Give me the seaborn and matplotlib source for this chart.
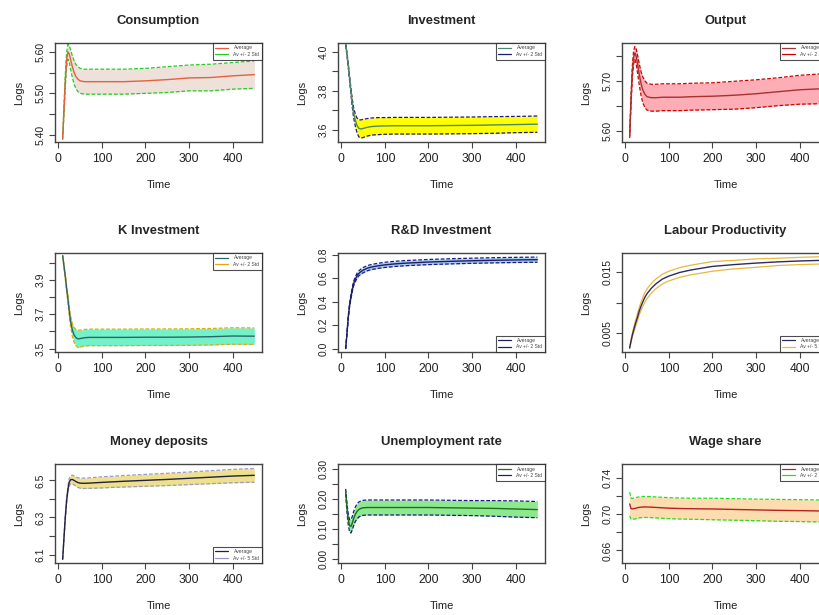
import matplotlib
matplotlib.use("Agg")
import matplotlib.pyplot as plt
import pandas as pd
import seaborn as sns
from matplotlib.lines import Line2D

# Simulation periods at which the Monte Carlo averages are recorded
time = [10, 13, 16, 19, 22, 25, 28, 32, 36, 40, 45, 50, 60, 70, 85, 100,
        125, 150, 200, 250, 300, 350, 400, 450]

# Cross-run averages and band half-widths (in logs)
consumption_avg = [5.392, 5.460, 5.530, 5.580, 5.600, 5.595, 5.582, 5.565, 5.551, 5.541, 5.534, 5.530,
                   5.528, 5.528, 5.528, 5.528, 5.528, 5.528, 5.530, 5.533, 5.537, 5.538, 5.542, 5.545]
consumption_band = [0.004, 0.010, 0.014, 0.017, 0.018, 0.020, 0.023, 0.026, 0.028, 0.029, 0.030, 0.030,
                    0.030, 0.030, 0.030, 0.030, 0.030, 0.030, 0.030, 0.031, 0.031, 0.032, 0.032, 0.033]

investment_avg = [4.040, 3.990, 3.930, 3.865, 3.800, 3.740, 3.690, 3.650, 3.622, 3.607, 3.603, 3.606,
                  3.612, 3.616, 3.618, 3.619, 3.620, 3.620, 3.620, 3.621, 3.622, 3.624, 3.626, 3.628]
investment_band = [0.005, 0.008, 0.010, 0.013, 0.016, 0.020, 0.025, 0.031, 0.038, 0.044, 0.047, 0.047,
                   0.045, 0.044, 0.044, 0.043, 0.043, 0.043, 0.043, 0.043, 0.043, 0.043, 0.042, 0.042]

output_avg = [5.590, 5.660, 5.718, 5.748, 5.757, 5.750, 5.735, 5.714, 5.696, 5.683, 5.674, 5.669,
              5.667, 5.667, 5.668, 5.668, 5.668, 5.669, 5.670, 5.672, 5.675, 5.679, 5.683, 5.685]
output_band = [0.004, 0.010, 0.012, 0.013, 0.013, 0.015, 0.018, 0.021, 0.024, 0.026, 0.027, 0.027,
               0.027, 0.027, 0.027, 0.027, 0.027, 0.027, 0.027, 0.028, 0.028, 0.028, 0.029, 0.030]

k_investment_avg = [4.040, 3.980, 3.920, 3.850, 3.790, 3.720, 3.660, 3.610, 3.580, 3.565, 3.556, 3.558,
                    3.563, 3.565, 3.565, 3.565, 3.565, 3.565, 3.566, 3.566, 3.567, 3.569, 3.573, 3.572]
k_investment_band = [0.005, 0.010, 0.013, 0.017, 0.020, 0.025, 0.030, 0.037, 0.043, 0.047, 0.050, 0.049,
                     0.048, 0.048, 0.048, 0.048, 0.048, 0.048, 0.048, 0.048, 0.048, 0.048, 0.048, 0.048]

rd_investment_avg = [0.000, 0.130, 0.270, 0.370, 0.440, 0.500, 0.550, 0.590, 0.620, 0.640, 0.655, 0.668,
                     0.685, 0.695, 0.705, 0.713, 0.722, 0.728, 0.737, 0.743, 0.748, 0.752, 0.755, 0.757]
rd_investment_band = [0.003, 0.008, 0.012, 0.015, 0.017, 0.018, 0.019, 0.020, 0.021, 0.021, 0.022, 0.022,
                      0.022, 0.022, 0.022, 0.022, 0.022, 0.022, 0.022, 0.022, 0.022, 0.022, 0.022, 0.022]

productivity_avg = [0.0025, 0.0036, 0.0046, 0.0054, 0.0062, 0.0069, 0.0076, 0.0086, 0.0094, 0.0101, 0.0109, 0.0115,
                    0.0124, 0.0131, 0.0139, 0.0144, 0.0150, 0.0154, 0.0160, 0.0163, 0.01655, 0.01675, 0.0169, 0.0170]
productivity_band = [0.0001, 0.0002, 0.0003, 0.0004, 0.0005, 0.0005, 0.0006, 0.0006, 0.0007, 0.0007, 0.0008, 0.0008,
                     0.0008, 0.0008, 0.0008, 0.0008, 0.0008, 0.0008, 0.0008, 0.0007, 0.0007, 0.0006, 0.0006, 0.0006]

deposits_avg = [6.075, 6.190, 6.300, 6.390, 6.450, 6.490, 6.503, 6.505, 6.500, 6.494, 6.488, 6.485,
                6.484, 6.485, 6.487, 6.489, 6.492, 6.495, 6.500, 6.505, 6.511, 6.517, 6.523, 6.527]
deposits_band = [0.002, 0.005, 0.010, 0.013, 0.016, 0.020, 0.022, 0.023, 0.024, 0.025, 0.026, 0.027,
                 0.028, 0.028, 0.029, 0.030, 0.030, 0.031, 0.032, 0.033, 0.034, 0.035, 0.036, 0.037]

unemployment_avg = [0.225, 0.170, 0.130, 0.110, 0.108, 0.118, 0.133, 0.148, 0.158, 0.164, 0.168, 0.170,
                    0.171, 0.171, 0.171, 0.171, 0.171, 0.171, 0.171, 0.170, 0.169, 0.168, 0.166, 0.164]
unemployment_band = [0.008, 0.015, 0.018, 0.020, 0.022, 0.022, 0.023, 0.024, 0.025, 0.025, 0.025, 0.025,
                     0.025, 0.025, 0.025, 0.025, 0.025, 0.025, 0.025, 0.025, 0.025, 0.026, 0.027, 0.027]

wage_share_avg = [0.7110, 0.7060, 0.7055, 0.7060, 0.7060, 0.7065, 0.7070, 0.7072, 0.7075, 0.7077, 0.7077, 0.7077,
                  0.7075, 0.7072, 0.7068, 0.7064, 0.7060, 0.7058, 0.7055, 0.7050, 0.7045, 0.7040, 0.7037, 0.7033]
wage_share_band = [0.0130, 0.0115, 0.0115, 0.0115, 0.0115, 0.0115, 0.0115, 0.0115, 0.0115, 0.0115, 0.0115, 0.0115,
                   0.0115, 0.0115, 0.0115, 0.0115, 0.0115, 0.0115, 0.0118, 0.0118, 0.0118, 0.0120, 0.0120, 0.0120]

titles = ["Consumption", "Investment", "Output",
          "K Investment", "R&D Investment", "Labour Productivity",
          "Money deposits", "Unemployment rate", "Wage share"]
band_labels = ["Av +/- 2 Std", "Av +/- 2 Std", "Av +/- 2 Std",
               "Av +/- 2 Std", "Av +/- 2 Std", "Av +/- 5 Std",
               "Av +/- 5 Std", "Av +/- 2 Std", "Av +/- 2 Std"]
x_ticks = [0, 100, 200, 300, 400]

averages = [consumption_avg, investment_avg, output_avg, k_investment_avg, rd_investment_avg,
            productivity_avg, deposits_avg, unemployment_avg, wage_share_avg]
bands = [consumption_band, investment_band, output_band, k_investment_band, rd_investment_band,
         productivity_band, deposits_band, unemployment_band, wage_share_band]

# y axis: tick positions and printed labels (every other label is skipped when crowded)
y_ticks = [
    ([5.40, 5.45, 5.50, 5.55, 5.60], ["5.40", "", "5.50", "", "5.60"]),
    ([3.6, 3.7, 3.8, 3.9, 4.0], ["3.6", "", "3.8", "", "4.0"]),
    ([5.60, 5.65, 5.70, 5.75], ["5.60", "", "5.70", ""]),
    ([3.5, 3.6, 3.7, 3.8, 3.9, 4.0], ["3.5", "", "3.7", "", "3.9", ""]),
    ([0.0, 0.2, 0.4, 0.6, 0.8], ["0.0", "0.2", "0.4", "0.6", "0.8"]),
    ([0.005, 0.010, 0.015], ["0.005", "", "0.015"]),
    ([6.1, 6.2, 6.3, 6.4, 6.5], ["6.1", "", "6.3", "", "6.5"]),
    ([0.00, 0.05, 0.10, 0.15, 0.20, 0.25, 0.30], ["0.00", "", "0.10", "", "0.20", "", "0.30"]),
    ([0.66, 0.68, 0.70, 0.72, 0.74], ["0.66", "", "0.70", "", "0.74"]),
]
y_limits = [(5.383, 5.621), (3.536, 4.047), (5.578, 5.777),
            (3.480, 4.056), (-0.029, 0.814), (0.00183, 0.01822),
            (6.055, 6.588), (-0.014, 0.316), (0.6463, 0.7548)]

# style per panel: fill, average line, band line, band dash, legend corner
styles = [
    dict(fill="#EEE1DA", avg="#E4603E", band="#22CC22", ls=(0, (3, 1.5)), loc="upper right"),
    dict(fill="#FFFF00", avg="#4E8A6A", band="#1A1A80", ls=(0, (3, 1.5)), loc="upper right"),
    dict(fill="#FCADB5", avg="#A83232", band="#D00000", ls=(0, (3, 1.5)), loc="upper right"),
    dict(fill="#72F2C8", avg="#2F6464", band="#E6A800", ls=(0, (3, 1.5)), loc="upper right"),
    dict(fill="#A8CCEE", avg="#202060", band="#1A1A8C", ls=(0, (3, 1.5)), loc="lower right"),
    dict(fill=None,      avg="#2B2B60", band="#E8B840", ls="-",          loc="lower right"),
    dict(fill="#EEE08C", avg="#202040", band="#9A9AC8", ls=(0, (3, 1.5)), loc="lower right"),
    dict(fill="#8EE88E", avg="#1E6E1E", band="#1A1A8C", ls=(0, (3, 1.5)), loc="upper right"),
    dict(fill="#FDDDB0", avg="#B82020", band="#22DD22", ls=(0, (3, 1.5)), loc="upper right"),
]

sns.set_theme(style="white")
plt.rcParams["font.family"] = ["Liberation Sans", "DejaVu Sans"]
plt.rcParams["axes.edgecolor"] = "#444444"
plt.rcParams["axes.linewidth"] = 1.0

W, H = 820, 615
fig = plt.figure(figsize=(W / 100, H / 100), dpi=100)
fig.patch.set_facecolor("white")

col_left = [55, 338, 622]
row_top = [43, 253, 464]
ax_w, ax_h = 207, 99

for i in range(9):
    r, c = divmod(i, 3)
    left, top = col_left[c], row_top[r]
    ax = fig.add_axes([left / W, 1 - (top + ax_h) / H, ax_w / W, ax_h / H])
    st = styles[i]
    df = pd.DataFrame({"time": time, "avg": averages[i], "band": bands[i]})
    df["upper"] = df["avg"] + df["band"]
    df["lower"] = df["avg"] - df["band"]

    if st["fill"] is not None:
        ax.fill_between(df["time"], df["lower"], df["upper"], color=st["fill"], lw=0, zorder=1)
    sns.lineplot(data=df, x="time", y="upper", ax=ax, color=st["band"], lw=0.9,
                 linestyle=st["ls"], zorder=2)
    sns.lineplot(data=df, x="time", y="lower", ax=ax, color=st["band"], lw=0.9,
                 linestyle=st["ls"], zorder=2)
    sns.lineplot(data=df, x="time", y="avg", ax=ax, color=st["avg"], lw=1.0, zorder=3)

    ax.set_xlim(-7.6, 467.6)
    ax.set_ylim(*y_limits[i])
    ax.set_xticks(x_ticks)
    ax.set_xticklabels([str(v) for v in x_ticks], fontsize=8.7, color="#222222")
    ticks, labels = y_ticks[i]
    ax.set_yticks(ticks)
    ax.set_yticklabels(labels, fontsize=7.5, rotation=90, va="center", color="#222222")
    ax.tick_params(axis="both", direction="out", length=4, width=0.8, color="#444444",
                   bottom=True, left=True, pad=3)
    ax.tick_params(axis="x", pad=4)
    ax.set_title(titles[i], fontsize=9.4, fontweight="bold", pad=14)
    ax.set_xlabel("Time", fontsize=8, labelpad=11, color="#222222")
    ax.set_ylabel("Logs", fontsize=8, labelpad=8, color="#222222")
    for s in ax.spines.values():
        s.set_visible(True)
        s.set_color("#444444")

    handles = [Line2D([], [], color=st["avg"], lw=0.9),
               Line2D([], [], color=st["band"], lw=0.9, linestyle="-")]
    leg = ax.legend(handles, ["Average", band_labels[i]], loc=st["loc"], fontsize=3.6,
                    frameon=True, fancybox=False, borderaxespad=0, handlelength=2.6,
                    borderpad=0.5, labelspacing=0.3, handletextpad=1.0)
    leg.get_frame().set_edgecolor("#222222")
    leg.get_frame().set_linewidth(0.8)
    for t in leg.get_texts():
        t.set_color("#444444")

fig.savefig("out.png", dpi=100, facecolor="white")
